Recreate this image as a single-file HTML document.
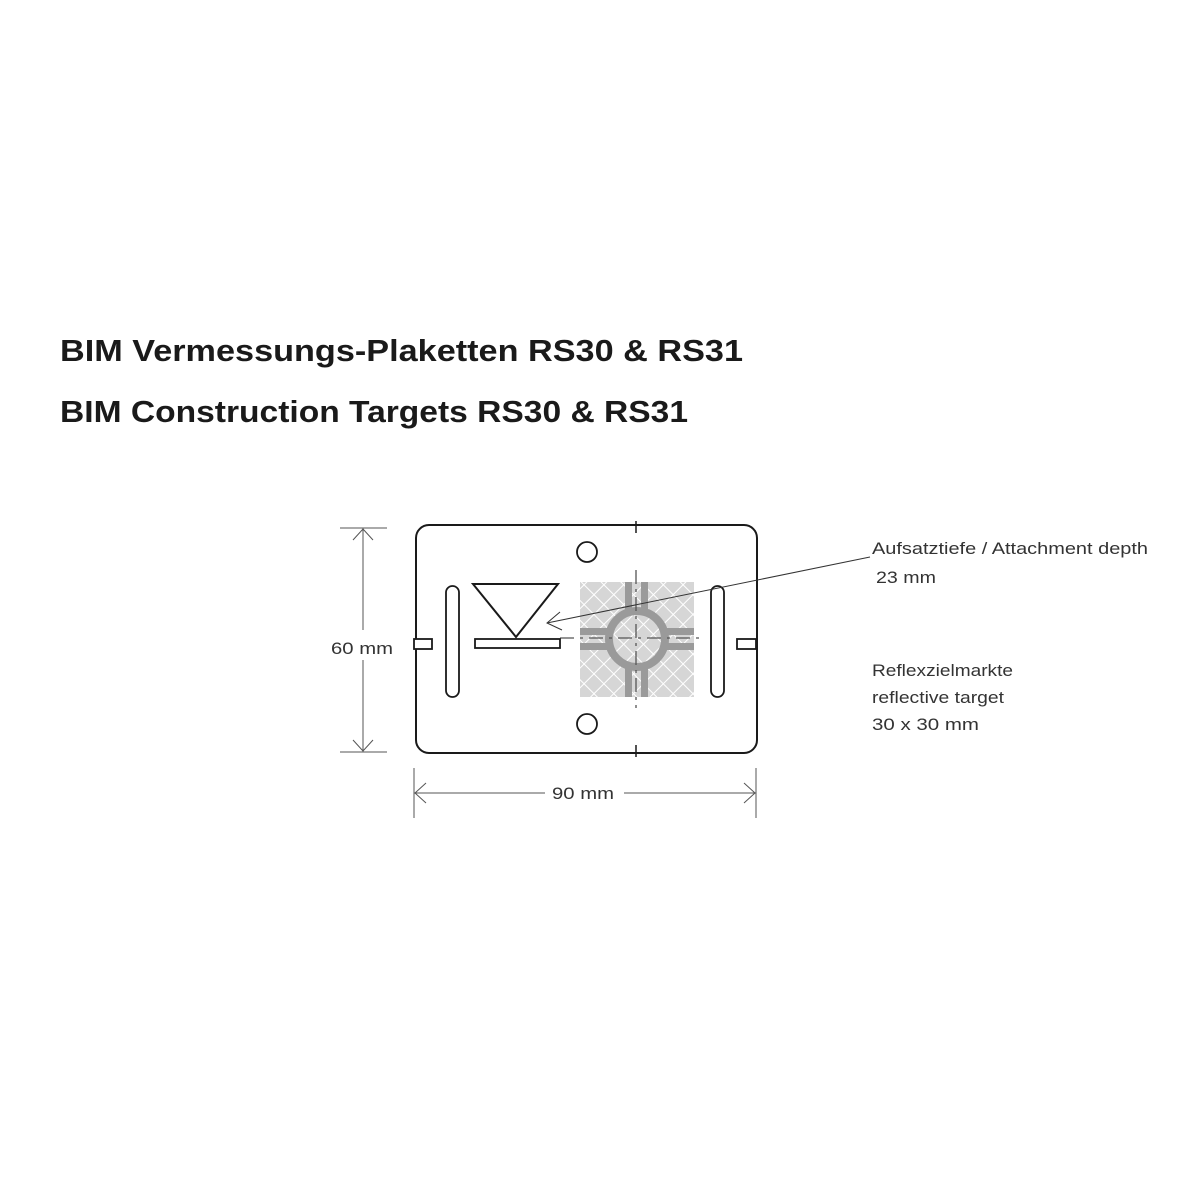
<!DOCTYPE html>
<html><head><meta charset="utf-8"><style>html,body{margin:0;padding:0;background:#fff}svg{display:block}</style></head>
<body>
<svg width="1200" height="1200" viewBox="0 0 1200 1200" xmlns="http://www.w3.org/2000/svg">
<defs>
<pattern id="hatch" width="14" height="14" patternUnits="userSpaceOnUse" patternTransform="rotate(45)">
<rect width="14" height="14" fill="#d6d6d6"/>
<line x1="0" y1="0" x2="0" y2="14" stroke="#fff" stroke-width="2"/>
<line x1="0" y1="0" x2="14" y2="0" stroke="#fff" stroke-width="2"/>
</pattern>
</defs>
<g font-family="Liberation Sans, sans-serif" font-weight="bold" fill="#1a1a1a" font-size="31">
<text x="60" y="361" textLength="683" lengthAdjust="spacingAndGlyphs">BIM Vermessungs-Plaketten RS30 &amp; RS31</text>
<text x="60" y="422" textLength="628" lengthAdjust="spacingAndGlyphs">BIM Construction Targets RS30 &amp; RS31</text>
</g>
<rect x="580" y="582" width="114" height="115" fill="url(#hatch)"/>
<g fill="#9a9a9a">
<rect x="625" y="582" width="7" height="30"/><rect x="641" y="582" width="7" height="30"/>
<rect x="625" y="666" width="7" height="31"/><rect x="641" y="666" width="7" height="31"/>
<rect x="580" y="628" width="30" height="7"/><rect x="580" y="643" width="30" height="7"/>
<rect x="664" y="628" width="30" height="7"/><rect x="664" y="643" width="30" height="7"/>
</g>
<circle cx="637" cy="639" r="28" fill="none" stroke="#9a9a9a" stroke-width="8"/>
<g stroke="#1a1a1a" fill="none">
<rect x="416" y="525" width="341" height="228" rx="13" stroke-width="2"/>
<line x1="636" y1="521" x2="636" y2="533" stroke-width="1.5"/>
<line x1="636" y1="745" x2="636" y2="757" stroke-width="1.5"/>
<line x1="636" y1="570" x2="636" y2="708" stroke-width="1.3" stroke-dasharray="14,5,3,5" stroke="#555"/>
<line x1="560" y1="638" x2="705" y2="638" stroke-width="1.2" stroke-dasharray="14,6,3,6" stroke="#555"/>
<circle cx="587" cy="552" r="10" stroke-width="1.8"/>
<circle cx="587" cy="724" r="10" stroke-width="1.8"/>
<rect x="446" y="586" width="13" height="111" rx="6.5" stroke-width="1.8"/>
<rect x="711" y="586" width="13" height="111" rx="6.5" stroke-width="1.8"/>
<rect x="414" y="639" width="18" height="10" fill="#fff" stroke-width="1.8"/>
<rect x="737" y="639" width="19" height="10" fill="#fff" stroke-width="1.8"/>
<polygon points="473,584 558,584 516,637" stroke-width="2"/>
<rect x="475" y="639" width="85" height="9" stroke-width="1.8"/>
</g>
<g stroke="#333" stroke-width="1" fill="none">
<line x1="870" y1="557" x2="547" y2="623"/>
<polyline points="560,612 547,623 562,630"/>
</g>
<g stroke="#555" stroke-width="1" fill="none">
<line x1="340" y1="528" x2="387" y2="528"/><line x1="340" y1="752" x2="387" y2="752"/>
<line x1="363" y1="528" x2="363" y2="630"/><line x1="363" y1="660" x2="363" y2="752"/>
<polyline points="353,540 363,529 373,540"/><polyline points="353,740 363,751 373,740"/>
<line x1="414" y1="768" x2="414" y2="818"/><line x1="756" y1="768" x2="756" y2="818"/>
<line x1="414" y1="793" x2="545" y2="793"/><line x1="624" y1="793" x2="756" y2="793"/>
<polyline points="426,783 415,793 426,803"/><polyline points="744,783 755,793 744,803"/>
</g>
<g font-family="Liberation Sans, sans-serif" fill="#333" font-size="17">
<text x="331" y="654" textLength="62" lengthAdjust="spacingAndGlyphs">60 mm</text>
<text x="552" y="799" textLength="62" lengthAdjust="spacingAndGlyphs">90 mm</text>
<text x="872" y="554" textLength="276" lengthAdjust="spacingAndGlyphs">Aufsatztiefe / Attachment depth</text>
<text x="876" y="583" textLength="60" lengthAdjust="spacingAndGlyphs">23 mm</text>
<text x="872" y="676" textLength="141" lengthAdjust="spacingAndGlyphs">Reflexzielmarkte</text>
<text x="872" y="703" textLength="132" lengthAdjust="spacingAndGlyphs">reflective target</text>
<text x="872" y="730" textLength="107" lengthAdjust="spacingAndGlyphs">30 x 30 mm</text>
</g>
</svg>
</body></html>
